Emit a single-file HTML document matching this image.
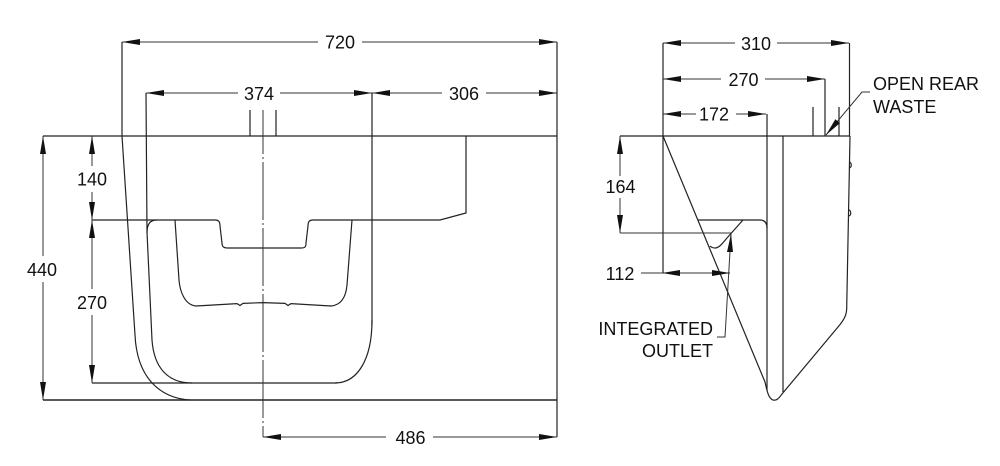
<!DOCTYPE html>
<html>
<head>
<meta charset="utf-8">
<style>
  html,body{margin:0;padding:0;background:#fff;}
  svg{display:block;}
  text{font-family:"Liberation Sans",Arial,sans-serif;font-size:18px;fill:#111;}
</style>
</head>
<body>
<svg width="1000" height="466" viewBox="0 0 1000 466" xmlns="http://www.w3.org/2000/svg">
  <rect width="1000" height="466" fill="#fff"/>

  <!-- ================= LEFT VIEW ================= -->
  <g stroke="#222" stroke-width="1.2" fill="none">
    <!-- top line incl. 440 ext -->
    <line x1="43" y1="136" x2="557" y2="136"/>
    <!-- bottom line incl. 440 ext -->
    <line x1="43" y1="400" x2="557" y2="400" stroke-width="1.5"/>
    <!-- right outline + ext -->
    <line x1="557" y1="42" x2="557" y2="437"/>
    <!-- 720 left ext + outer left side -->
    <line x1="122" y1="42" x2="122" y2="136"/>
    <path d="M122,136 L135,335 C137,378 160,398 190,400"/>
    <!-- 374 left ext + inner side -->
    <line x1="146" y1="93" x2="147" y2="232"/>
    <path d="M147,233 C147,224 150,220 157,220"/>
    <path d="M147,232 L152,340 C154,368 168,383 192,383"/>
    <!-- 374/306 ext + right inner side -->
    <line x1="372" y1="93" x2="372" y2="325"/>
    <path d="M372,320 C372,362 356,383 335,383"/>
    <!-- 270 bottom ext/line -->
    <line x1="92" y1="383" x2="337" y2="383"/>
    <!-- rim line with notch -->
    <path d="M92,220 L215,220 C219,220 220,222 220,226 L222,243 C222,247 224,248 228,248 L301,248 C305,248 306,247 306,243 L308,226 C308,222 309,220 313,220 L440,220 L466,213 L466,136"/>
    <!-- inner bowl -->
    <path d="M175,220 L179,280 C180,292 185,305 196,306 L237,303.6 L240,305.5 L243,303.4 L263,302.6 L285,303.4 L288,305.5 L291,303.6 L331,306 C342,305 346,296 347,285 L352,220"/>
    <!-- taps -->
    <line x1="250" y1="110" x2="250" y2="136"/>
    <line x1="276" y1="110" x2="276" y2="136"/>
  </g>
  <!-- centre line -->
  <line x1="263" y1="110" x2="263" y2="437" stroke="#333" stroke-width="1" stroke-dasharray="58 3 2 3" stroke-dashoffset="14"/>

  <!-- left view dimension lines -->
  <g stroke="#333" stroke-width="1" fill="none">
    <line x1="122" y1="42" x2="318" y2="42"/>
    <line x1="362" y1="42" x2="557" y2="42"/>
    <line x1="146" y1="93" x2="238" y2="93"/>
    <line x1="280" y1="93" x2="372" y2="93"/>
    <line x1="372" y1="93" x2="442" y2="93"/>
    <line x1="486" y1="93" x2="557" y2="93"/>
    <line x1="263" y1="437" x2="386" y2="437"/>
    <line x1="433" y1="437" x2="557" y2="437"/>
    <line x1="43" y1="136" x2="43" y2="256"/>
    <line x1="43" y1="282" x2="43" y2="400"/>
    <line x1="92" y1="136" x2="92" y2="166"/>
    <line x1="92" y1="192" x2="92" y2="220"/>
    <line x1="92" y1="220" x2="92" y2="289"/>
    <line x1="92" y1="315" x2="92" y2="383"/>
  </g>
  <g fill="#111" stroke="none">
    <polygon points="122,42 140,39 140,45"/>
    <polygon points="557,42 539,39 539,45"/>
    <polygon points="146,93 164,90 164,96"/>
    <polygon points="372,93 354,90 354,96"/>
    <polygon points="372,93 390,90 390,96"/>
    <polygon points="557,93 539,90 539,96"/>
    <polygon points="263,437 281,434 281,440"/>
    <polygon points="557,437 539,434 539,440"/>
    <polygon points="43,136 40,154 46,154"/>
    <polygon points="43,400 40,382 46,382"/>
    <polygon points="92,136 89,154 95,154"/>
    <polygon points="92,220 89,202 95,202"/>
    <polygon points="92,220 89,238 95,238"/>
    <polygon points="92,383 89,365 95,365"/>
  </g>
  <text x="340" y="48.5" text-anchor="middle">720</text>
  <text x="259" y="100" text-anchor="middle">374</text>
  <text x="464" y="100" text-anchor="middle">306</text>
  <text x="92" y="185.5" text-anchor="middle">140</text>
  <text x="42" y="276" text-anchor="middle">440</text>
  <text x="92" y="309" text-anchor="middle">270</text>
  <text x="410.5" y="444" text-anchor="middle">486</text>

  <!-- ================= RIGHT VIEW ================= -->
  <g stroke="#222" stroke-width="1.2" fill="none">
    <!-- top line incl. 164 ext -->
    <line x1="620" y1="136" x2="850" y2="136"/>
    <!-- left ext (310/270/172 + 112) -->
    <line x1="663" y1="43" x2="663" y2="273"/>
    <!-- front diagonal and bottom tip -->
    <path d="M663,136 L765,382 C767,390 768,398 773,400 C777,401 779,398 782,394 L838,327 C844,320 846.7,315 846.7,308 L850,136"/>
    <!-- right outline ext -->
    <line x1="849.5" y1="43" x2="849.5" y2="136"/>
    <!-- bumps -->
    <path d="M849,162 C852,162 852,168 849,168"/>
    <path d="M848.5,210 C851.5,210 851.5,216 848.5,216"/>
    <!-- verticals -->
    <line x1="767" y1="114" x2="767" y2="390"/>
    <line x1="783" y1="136" x2="783" y2="392"/>
    <!-- 270 ext -->
    <line x1="825" y1="79" x2="825" y2="136"/>
    <!-- taps -->
    <line x1="813" y1="107" x2="813" y2="136"/>
    <line x1="839" y1="107" x2="839" y2="136"/>
    <!-- basin -->
    <path d="M698,220 L760,220 C765,220 767,223 767,228"/>
    <path d="M743,220 L727,238 C722,244 719,248 715,248 C712,248 711,247 710,246"/>
  </g>
  <g stroke="#333" stroke-width="1" fill="none">
    <line x1="663" y1="43" x2="735" y2="43"/>
    <line x1="777" y1="43" x2="849" y2="43"/>
    <line x1="663" y1="79" x2="721" y2="79"/>
    <line x1="765" y1="79" x2="825" y2="79"/>
    <line x1="663" y1="114" x2="696" y2="114"/>
    <line x1="736" y1="114" x2="766" y2="114"/>
    <line x1="620" y1="136" x2="620" y2="176"/>
    <line x1="620" y1="198" x2="620" y2="233"/>
    <line x1="620" y1="233" x2="731" y2="233"/>
    <line x1="641" y1="273" x2="730" y2="273"/>
    <!-- outlet leader -->
    <polyline points="731,234 725,337 717,337"/>
    <!-- rear waste leader -->
    <polyline points="826,135 862,92 870,92"/>
  </g>
  <g fill="#111" stroke="none">
    <polygon points="663,43 681,40 681,46"/>
    <polygon points="849,43 831,40 831,46"/>
    <polygon points="663,79 681,76 681,82"/>
    <polygon points="825,79 807,76 807,82"/>
    <polygon points="663,114 681,111 681,117"/>
    <polygon points="766,114 748,111 748,117"/>
    <polygon points="620,136 617,154 623,154"/>
    <polygon points="620,233 617,215 623,215"/>
    <polygon points="662,273 680,270 680,276"/>
    <polygon points="730,273 712,270 712,276"/>
    <polygon points="731,234 727,252 733,252"/>
    <polygon points="826,135 839.9,123.1 835.3,119.3"/>
  </g>
  <text x="756" y="50" text-anchor="middle">310</text>
  <text x="743.5" y="86" text-anchor="middle">270</text>
  <text x="714" y="120.7" text-anchor="middle">172</text>
  <text x="620.5" y="193" text-anchor="middle">164</text>
  <text x="620" y="280" text-anchor="middle">112</text>
  <text x="713" y="335" text-anchor="end">INTEGRATED</text>
  <text x="713" y="357" text-anchor="end">OUTLET</text>
  <text x="873" y="90">OPEN REAR</text>
  <text x="873" y="113">WASTE</text>
</svg>
</body>
</html>
